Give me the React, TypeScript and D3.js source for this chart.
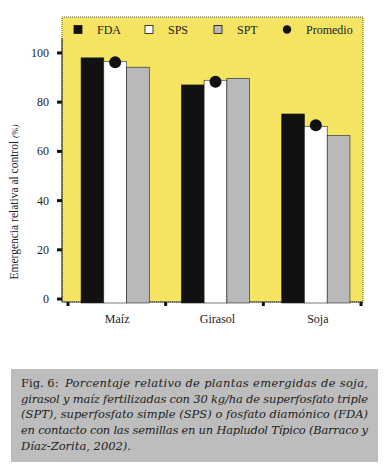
import * as d3 from 'd3';

const cultivos = ['Maíz', 'Girasol', 'Soja'];
const series = ['FDA', 'SPS', 'SPT'];
const fda = [98, 87, 75.2];
const sps = [96.6, 88.9, 70.2];
const spt = [94.2, 89.7, 66.5];
const promedio = [96.2, 88.3, 70.6];
const yTicks = [0, 20, 40, 60, 80, 100];
const colores = ['#111111', '#ffffff', '#b9b9b9'];

const caption = [
  'Porcentaje relativo de plantas emergidas de soja,',
  'girasol y maíz fertilizadas con 30 kg/ha de superfosfato triple',
  '(SPT), superfosfato simple (SPS) o fosfato diamónico (FDA)',
  'en contacto con las semillas en un Hapludol Típico (Barraco y',
  'Díaz-Zorita, 2002).',
];

const width = 385;
const height = 470;
const margin = { top: 17, right: 22, bottom: 168, left: 62 };
const plotRight = width - margin.right;
const plotBottom = height - margin.bottom;

const App = () => {
  const yScale = d3.scaleLinear().domain([-1.2, 114.6]).range([plotBottom, margin.top]);
  const xScale = d3.scaleBand()
    .domain(cultivos)
    .range([65, 366])
    .paddingInner(0.32)
    .paddingOuter(0.16);
  const xSub = d3.scaleBand().domain(series).range([0, xScale.bandwidth()]);
  const xTickScale = d3.scaleLinear().domain([0, 3]).range([68, 361]);

  const valores = [fda, sps, spt];
  const font = '"Liberation Serif", "DejaVu Serif", serif';

  return (
    <svg width={width} height={height} style={{ position: 'absolute', left: 0, top: 0 }}>
      <rect x={0} y={0} width={width} height={height} fill="#ffffff" />
      {/* area del grafico */}
      <rect
        x={margin.left}
        y={margin.top}
        width={plotRight - margin.left}
        height={plotBottom - margin.top}
        fill="#f4e462"
        stroke="#333"
        strokeWidth={0.8}
        strokeDasharray="1 1"
      />
      <line x1={margin.left} x2={margin.left} y1={38} y2={plotBottom} stroke="#222" strokeWidth={1} />
      <line x1={margin.left} x2={plotRight} y1={plotBottom} y2={plotBottom} stroke="#222" strokeWidth={0.8} />

      {yTicks.map((t) => (
        <g key={t} transform={`translate(0,${yScale(t)})`}>
          <line x1={57} x2={margin.left} y1={0} y2={0} stroke="#111" strokeWidth={3} />
          <text
            x={49}
            y={4}
            textAnchor="end"
            style={{ fontFamily: font, fontSize: 12, fill: '#222' }}
          >
            {t}
          </text>
        </g>
      ))}

      {d3.range(4).map((i) => (
        <line key={i} x1={xTickScale(i)} x2={xTickScale(i)} y1={plotBottom} y2={306} stroke="#111" strokeWidth={3} />
      ))}

      {cultivos.map((c, i) => (
        <g key={c} transform={`translate(${xScale(c)},0)`}>
          {series.map((s, j) => (
            <rect
              key={s}
              x={xSub(s)}
              y={yScale(valores[j][i])}
              width={xSub.bandwidth()}
              height={plotBottom + 1 - yScale(valores[j][i])}
              fill={colores[j]}
              stroke="#222"
              strokeWidth={0.6}
            />
          ))}
          <circle
            cx={xScale.bandwidth() / 2}
            cy={yScale(promedio[i])}
            r={6}
            fill="#111"
          />
          <text
            x={xScale.bandwidth() / 2 + 2}
            y={323}
            textAnchor="middle"
            style={{ fontFamily: font, fontSize: 12, fill: '#222' }}
          >
            {c}
          </text>
        </g>
      ))}

      {/* leyenda */}
      {[74, 145, 214].map((lx, j) => (
        <g key={series[j]}>
          <rect x={lx} y={25.5} width={8} height={8} fill={colores[j]} stroke="#111" strokeWidth={0.8} />
          <text x={lx + 23} y={33.5} style={{ fontFamily: font, fontSize: 12, fill: '#222' }}>
            {series[j]}
          </text>
        </g>
      ))}
      <circle cx={287} cy={29.5} r={4.2} fill="#111" />
      <text x={306} y={33.5} style={{ fontFamily: font, fontSize: 12, fill: '#222' }}>
        Promedio
      </text>

      <text
        transform={`translate(18,${202}) rotate(-90)`}
        textAnchor="middle"
        style={{ fontFamily: font, fontSize: 11.5, fill: '#222' }}
      >
        Emergencia relativa al control <tspan style={{ fontStyle: 'italic', fontSize: 9 }}>(%)</tspan>
      </text>

      {/* leyenda de figura */}
      <rect x={11} y={369} width={367} height={93} fill="#bdbdbd" />
      {caption.map((line, i) => (
        <text
          key={i}
          x={21}
          y={387 + i * 15.7}
          textLength={i < 4 ? (i === 0 ? 347 - 44 : 347) : undefined}
          lengthAdjust="spacing"
          dx={i === 0 ? 44 : 0}
          style={{ fontFamily: '"DejaVu Serif", serif', fontStyle: 'italic', fontSize: 11.5, fill: '#222' }}
        >
          {line}
        </text>
      ))}
      <text x={21} y={387} style={{ fontFamily: '"DejaVu Serif", serif', fontSize: 11.5, fill: '#222' }}>
        Fig. 6:
      </text>
    </svg>
  );
};

export default App;
